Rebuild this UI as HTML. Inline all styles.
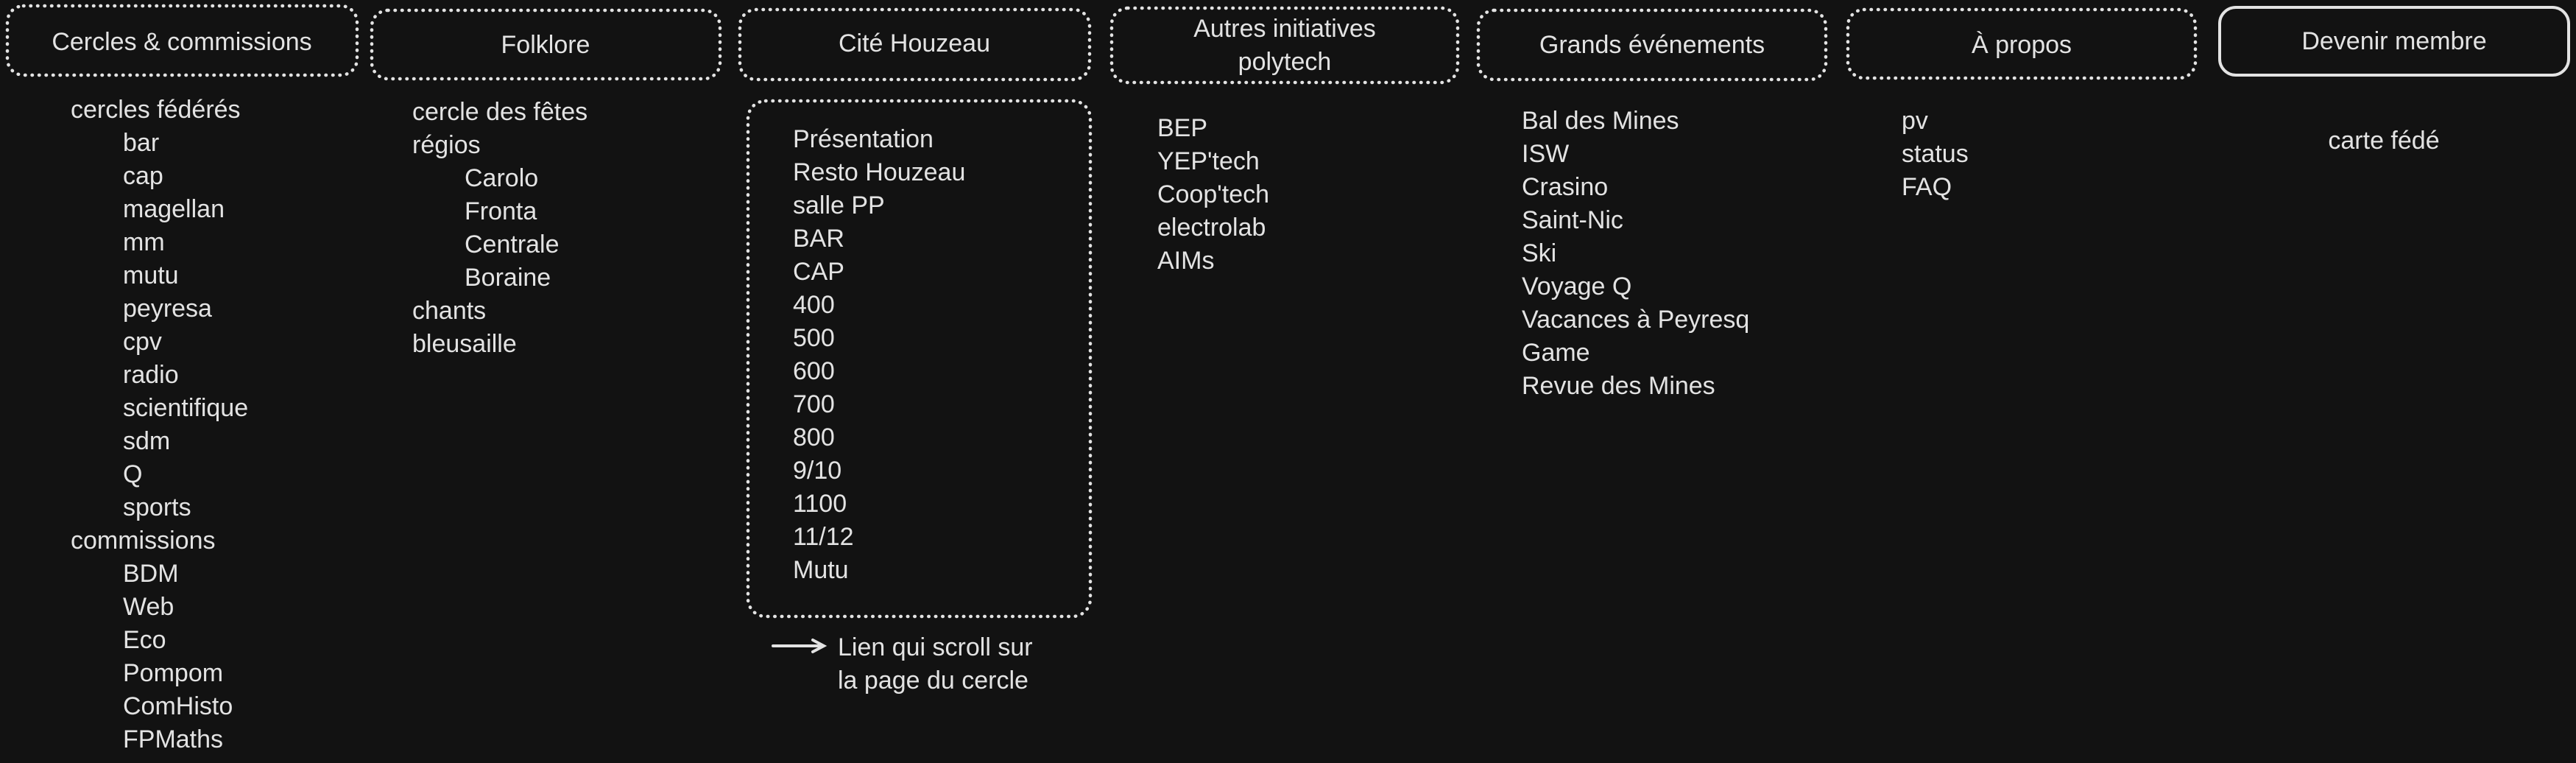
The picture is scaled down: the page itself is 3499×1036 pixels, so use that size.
<!DOCTYPE html>
<html><head><meta charset="utf-8"><style>
html,body{margin:0;padding:0;background:#121212;}
svg{display:block}
text{font-family:"Liberation Sans",sans-serif;fill:#e3e3e3;font-size:34px}
.t{text-anchor:middle;font-size:34px}
</style></head><body>
<svg width="3499" height="1036" viewBox="0 0 3499 1036" xmlns="http://www.w3.org/2000/svg">
<rect width="3499" height="1036" fill="#121212"/>
<g fill="none" stroke="#e3e3e3" stroke-width="4.5" stroke-linecap="round" stroke-dasharray="0.5 9">
<rect x="10" y="8" width="475" height="94" rx="22"/>
<rect x="505" y="14" width="473" height="93" rx="22"/>
<rect x="1005" y="13" width="475" height="95" rx="22"/>
<rect x="1510" y="11" width="470" height="101" rx="22"/>
<rect x="2008" y="14" width="472" height="94" rx="22"/>
<rect x="2510" y="13" width="472" height="93" rx="22"/>
<rect x="1016" y="137" width="465" height="700" rx="24"/>
</g>
<rect x="3015" y="10" width="474" height="92" rx="22" fill="none" stroke="#e3e3e3" stroke-width="4"/>
<!-- titles -->
<text class="t" x="247" y="68">Cercles &amp; commissions</text>
<text class="t" x="741" y="72">Folklore</text>
<text class="t" x="1242" y="70">Cité Houzeau</text>
<text class="t" x="1745" y="50">Autres initiatives</text>
<text class="t" x="1745" y="95">polytech</text>
<text class="t" x="2244" y="72">Grands événements</text>
<text class="t" x="2746" y="72">À propos</text>
<text class="t" x="3252" y="67">Devenir membre</text>
<!-- col1 -->
<g>
<text x="96" y="160">cercles fédérés</text>
<text x="167" y="205">bar</text>
<text x="167" y="250">cap</text>
<text x="167" y="295">magellan</text>
<text x="167" y="340">mm</text>
<text x="167" y="385">mutu</text>
<text x="167" y="430">peyresa</text>
<text x="167" y="475">cpv</text>
<text x="167" y="520">radio</text>
<text x="167" y="565">scientifique</text>
<text x="167" y="610">sdm</text>
<text x="167" y="655">Q</text>
<text x="167" y="700">sports</text>
<text x="96" y="745">commissions</text>
<text x="167" y="790">BDM</text>
<text x="167" y="835">Web</text>
<text x="167" y="880">Eco</text>
<text x="167" y="925">Pompom</text>
<text x="167" y="970">ComHisto</text>
<text x="167" y="1015">FPMaths</text>
</g>
<!-- col2 -->
<g>
<text x="560" y="163">cercle des fêtes</text>
<text x="560" y="208">régios</text>
<text x="631" y="253">Carolo</text>
<text x="631" y="298">Fronta</text>
<text x="631" y="343">Centrale</text>
<text x="631" y="388">Boraine</text>
<text x="560" y="433">chants</text>
<text x="560" y="478">bleusaille</text>
</g>
<!-- col3 -->
<g>
<text x="1077" y="200">Présentation</text>
<text x="1077" y="245">Resto Houzeau</text>
<text x="1077" y="290">salle PP</text>
<text x="1077" y="335">BAR</text>
<text x="1077" y="380">CAP</text>
<text x="1077" y="425">400</text>
<text x="1077" y="470">500</text>
<text x="1077" y="515">600</text>
<text x="1077" y="560">700</text>
<text x="1077" y="605">800</text>
<text x="1077" y="650">9/10</text>
<text x="1077" y="695">1100</text>
<text x="1077" y="740">11/12</text>
<text x="1077" y="785">Mutu</text>
</g>
<path d="M1050 877 L1118 877 M1104 869 L1119 877 L1104 885" stroke="#e3e3e3" stroke-width="4" fill="none" stroke-linecap="round"/>
<text x="1138" y="890">Lien qui scroll sur</text>
<text x="1138" y="935">la page du cercle</text>
<!-- col4 -->
<g>
<text x="1572" y="185">BEP</text>
<text x="1572" y="230">YEP'tech</text>
<text x="1572" y="275">Coop'tech</text>
<text x="1572" y="320">electrolab</text>
<text x="1572" y="365">AIMs</text>
</g>
<!-- col5 -->
<g>
<text x="2067" y="175">Bal des Mines</text>
<text x="2067" y="220">ISW</text>
<text x="2067" y="265">Crasino</text>
<text x="2067" y="310">Saint-Nic</text>
<text x="2067" y="355">Ski</text>
<text x="2067" y="400">Voyage Q</text>
<text x="2067" y="445">Vacances à Peyresq</text>
<text x="2067" y="490">Game</text>
<text x="2067" y="535">Revue des Mines</text>
</g>
<!-- col6 -->
<g>
<text x="2583" y="175">pv</text>
<text x="2583" y="220">status</text>
<text x="2583" y="265">FAQ</text>
</g>
<text class="t" x="3238" y="202">carte fédé</text>
</svg>
</body></html>
